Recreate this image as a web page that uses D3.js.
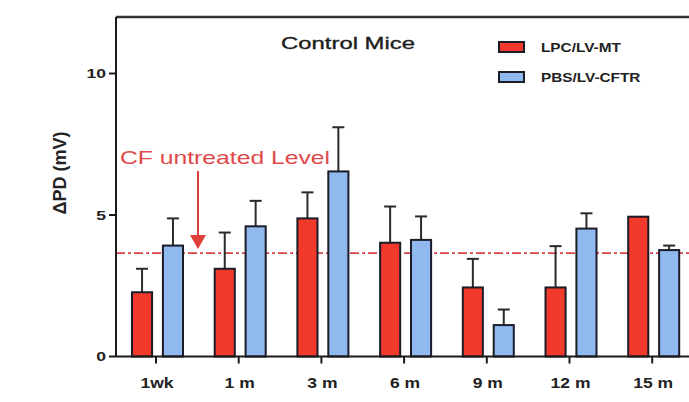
<!DOCTYPE html>
<html>
<head>
<meta charset="utf-8">
<script src="https://cdn.jsdelivr.net/npm/d3@7/dist/d3.min.js"></script>
<style>
  html, body { margin: 0; padding: 0; background: #fff; }
  svg { display: block; font-family: Arial, "Liberation Sans", sans-serif; }
</style>
</head>
<body>
<svg id="chart" width="689" height="402"></svg>
<script>
// ---- data ----
const categories = ["1wk", "1 m", "3 m", "6 m", "9 m", "12 m", "15 m"];
const seriesNames = ["LPC/LV-MT", "PBS/LV-CFTR"];
const lpcMean = [2.27, 3.1, 4.88, 4.02, 2.44, 2.44, 4.94];
const lpcErr  = [0.83, 1.28, 0.92, 1.28, 1.01, 1.46, 0];
const pbsMean = [3.92, 4.6, 6.54, 4.12, 1.11, 4.52, 3.76];
const pbsErr  = [0.96, 0.9, 1.56, 0.83, 0.55, 0.54, 0.16];
const yTicks = [0, 5, 10];
const cfLevel = 3.65;
const titleText = "Control Mice";
const yLabel = "\u0394PD (mV)";
const cfText = "CF untreated Level";

const colors = ["#f23a2c", "#8fb9ef"];

const svg = d3.select("#chart");

// horizontally stretch text (the reference glyphs are wide)
function stretch(sel, k) {
  sel.each(function() {
    const w = this.getComputedTextLength();
    d3.select(this).attr("textLength", w * k).attr("lengthAdjust", "spacingAndGlyphs");
  });
}

const x0 = 116, yBase = 356.5, yTop = 17;
const y = d3.scaleLinear().domain([0, 12]).range([yBase, yBase - 12 * 28.3]);
const step = 82.7;
const x = d3.scaleBand().domain(categories)
  .range([156 - step / 2, 156 - step / 2 + step * categories.length])
  .paddingInner(0).paddingOuter(0);
const xs = d3.scaleBand().domain(seriesNames).range([-24, 27]).paddingInner(0.35);

const rows = categories.map((c, i) => ({
  c,
  vals: [
    { s: seriesNames[0], v: lpcMean[i], e: lpcErr[i], col: colors[0] },
    { s: seriesNames[1], v: pbsMean[i], e: pbsErr[i], col: colors[1] }
  ]
}));

// frame top
svg.append("line").attr("x1", x0).attr("x2", 689).attr("y1", yTop).attr("y2", yTop)
  .attr("stroke", "#333").attr("stroke-width", 2.5);

// dashed CF level
svg.append("line").attr("x1", x0).attr("x2", 689)
  .attr("y1", y(cfLevel)).attr("y2", y(cfLevel))
  .attr("stroke", "#d6444a").attr("stroke-width", 1.8)
  .attr("stroke-dasharray", "9,3,3,3");

// bars
const g = svg.append("g").selectAll("g").data(rows).join("g")
  .attr("transform", d => `translate(${x(d.c) + x.bandwidth() / 2},0)`);

g.selectAll("g.err").data(d => d.vals.filter(v => v.e > 0)).join("g").attr("class", "err")
  .each(function(d) {
    const cx = xs(d.s) + xs.bandwidth() / 2;
    const sel = d3.select(this);
    sel.append("line").attr("x1", cx).attr("x2", cx)
      .attr("y1", y(d.v)).attr("y2", y(d.v + d.e))
      .attr("stroke", "#2a2a2a").attr("stroke-width", 2);
    sel.append("line").attr("x1", cx - 6).attr("x2", cx + 6)
      .attr("y1", y(d.v + d.e)).attr("y2", y(d.v + d.e))
      .attr("stroke", "#2a2a2a").attr("stroke-width", 2);
  });

g.selectAll("rect").data(d => d.vals).join("rect")
  .attr("x", d => xs(d.s))
  .attr("width", xs.bandwidth())
  .attr("y", d => y(d.v))
  .attr("height", d => yBase - y(d.v))
  .attr("fill", d => d.col)
  .attr("stroke", "#1c1c28").attr("stroke-width", 2);

// y axis
const yAxis = svg.append("g").attr("transform", `translate(${x0},0)`);
yAxis.append("line").attr("x1", 0).attr("x2", 0).attr("y1", yBase).attr("y2", yTop)
  .attr("stroke", "#1a1a1a").attr("stroke-width", 2);
yAxis.selectAll("g.t").data(yTicks).join("g").attr("class", "t")
  .attr("transform", d => `translate(0,${y(d)})`)
  .each(function(d) {
    const s = d3.select(this);
    s.append("line").attr("x1", -7).attr("x2", 0).attr("stroke", "#1a1a1a").attr("stroke-width", 2);
    s.append("text").attr("x", -10).attr("dy", "0.36em").attr("text-anchor", "end")
      .attr("font-size", 13).attr("font-weight", "bold").attr("fill", "#222")
      .text(d);
  });
stretch(yAxis.selectAll("text"), 1.35);

// x axis
const xAxis = svg.append("g").attr("transform", `translate(0,${yBase})`);
xAxis.append("line").attr("x1", x0).attr("x2", 689).attr("stroke", "#1a1a1a").attr("stroke-width", 2);
xAxis.selectAll("g.t").data(categories).join("g").attr("class", "t")
  .attr("transform", d => `translate(${x(d) + x.bandwidth() / 2},0)`)
  .each(function(d) {
    const s = d3.select(this);
    s.append("line").attr("y1", 0).attr("y2", 7).attr("stroke", "#1a1a1a").attr("stroke-width", 2);
    s.append("text").attr("x", 1).attr("y", 31).attr("text-anchor", "middle")
      .attr("font-size", 14).attr("font-weight", "bold").attr("fill", "#222")
      .text(d);
  });
stretch(xAxis.selectAll("text"), 1.25);

// y label
svg.append("text")
  .attr("transform", `translate(66,173) rotate(-90)`)
  .attr("text-anchor", "middle")
  .attr("font-size", 18).attr("font-weight", "bold").attr("fill", "#222")
  .text(yLabel);

// title
svg.append("text").attr("x", 348).attr("y", 49).attr("text-anchor", "middle")
  .attr("font-size", 17).attr("fill", "#1e1e1e").attr("stroke", "#1e1e1e").attr("stroke-width", 0.35)
  .attr("textLength", 134).attr("lengthAdjust", "spacingAndGlyphs")
  .text(titleText);

// legend
const leg = svg.append("g");
seriesNames.forEach((s, i) => {
  leg.append("rect").attr("x", 499).attr("y", 42 + i * 30).attr("width", 25).attr("height", 10)
    .attr("fill", colors[i]).attr("stroke", "#1c1c28").attr("stroke-width", 2);
  leg.append("text").attr("x", 541).attr("y", 52 + i * 30)
    .attr("font-size", 13).attr("font-weight", "bold").attr("fill", "#222")
    .text(s);
});
stretch(leg.selectAll("text"), 1.18);

// CF untreated label + arrow
svg.append("text").attr("x", 120).attr("y", 164)
  .attr("font-size", 18.5).attr("fill", "#e0484a")
  .attr("textLength", 210).attr("lengthAdjust", "spacingAndGlyphs")
  .text(cfText);
svg.append("line").attr("x1", 198).attr("x2", 198).attr("y1", 171).attr("y2", 237)
  .attr("stroke", "#d9403f").attr("stroke-width", 2);
svg.append("path").attr("d", "M190,235 L206,235 L198,249 Z").attr("fill", "#e0403a");
</script>
</body>
</html>
